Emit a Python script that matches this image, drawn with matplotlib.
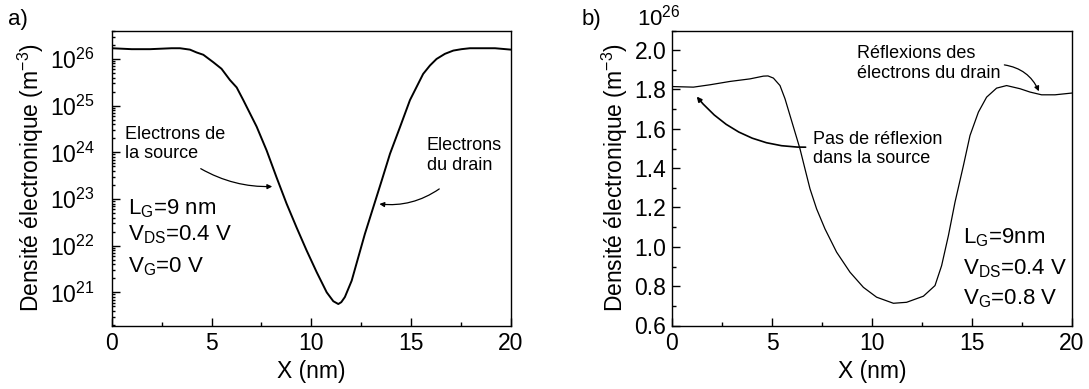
import numpy as np
import matplotlib
matplotlib.use("Agg")
import matplotlib.pyplot as plt
from matplotlib.patches import FancyArrowPatch
from matplotlib.ticker import MultipleLocator, FixedLocator, NullFormatter, FormatStrFormatter

plt.rcParams['font.family'] = ['Liberation Sans', 'DejaVu Sans']
plt.rcParams['mathtext.fontset'] = 'custom'
plt.rcParams['mathtext.rm'] = 'Liberation Sans'
plt.rcParams['mathtext.it'] = 'Liberation Sans:italic'
plt.rcParams['mathtext.bf'] = 'Liberation Sans:bold'
plt.rcParams['mathtext.sf'] = 'Liberation Sans'
plt.rcParams['axes.unicode_minus'] = False

# ---- panel a) data : log10 of electron density (m^-3) ----
xa = [0.0, 1.0, 1.92, 3.0, 3.42, 3.92, 4.25, 4.59, 5.09, 5.5, 5.92, 6.26, 6.59,
      7.26, 7.76, 8.26, 8.76, 9.26, 9.76, 10.27, 10.77, 11.1, 11.35, 11.5, 11.68,
      12.02, 12.35, 12.68, 13.1, 13.52, 13.94, 14.44, 14.94, 15.6, 15.94, 16.27,
      16.69, 17.11, 17.52, 17.94, 19.2, 20.0]
loga = [26.23, 26.21, 26.21, 26.23, 26.23, 26.2, 26.14, 26.09, 25.93, 25.79, 25.55,
        25.39, 25.12, 24.55, 24.04, 23.46, 22.9, 22.39, 21.9, 21.43, 21.0, 20.81,
        20.75, 20.79, 20.9, 21.25, 21.75, 22.25, 22.82, 23.39, 23.97, 24.54, 25.12,
        25.68, 25.86, 26.0, 26.11, 26.18, 26.21, 26.23, 26.23, 26.2]
log_decades = [21, 22, 23, 24, 25, 26]

# ---- panel b) data : electron density (x 1e26 m^-3) ----
xb = [0.0, 1.07, 1.9, 2.9, 3.9, 4.57, 4.8, 5.07, 5.4, 5.65, 5.9, 6.15, 6.4, 6.65,
      6.9, 7.23, 7.65, 8.23, 8.9, 9.57, 10.23, 11.07, 11.73, 12.57, 13.15, 13.48,
      13.82, 14.15, 14.57, 14.9, 15.32, 15.73, 16.23, 16.73, 17.4, 17.9, 18.48,
      19.15, 20.0]
nb = [1.815, 1.812, 1.824, 1.841, 1.854, 1.868, 1.869, 1.858, 1.82, 1.753, 1.668,
      1.583, 1.498, 1.396, 1.295, 1.193, 1.091, 0.973, 0.871, 0.794, 0.744, 0.713,
      0.718, 0.749, 0.803, 0.904, 1.057, 1.227, 1.413, 1.566, 1.685, 1.761, 1.807,
      1.82, 1.804, 1.787, 1.773, 1.773, 1.782]

xticks = [0, 5, 10, 15, 20]

W, H = 1089, 389
fig = plt.figure(figsize=(W / 100, H / 100), dpi=100)

def px_axes(x0, x1, y0, y1):
    return fig.add_axes([x0 / W, 1 - y1 / H, (x1 - x0) / W, (y1 - y0) / H])

axa = px_axes(111.7, 511, 30.5, 325.5)
axb = px_axes(672, 1072, 30.5, 325.5)

FS = 16.5
for ax in (axa, axb):
    for s in ax.spines.values():
        s.set_linewidth(1.0)
    ax.set_xlim(0, 20)
    ax.set_xticks(xticks)
    ax.xaxis.set_minor_locator(MultipleLocator(2.5))
    ax.tick_params(which='both', direction='in', top=False, right=False,
                   labelsize=FS, width=1.0)
    ax.tick_params(which='major', length=6)
    ax.tick_params(which='minor', length=3)
    ax.tick_params(axis='x', pad=5)
    ax.set_xlabel('X (nm)', fontsize=FS, labelpad=3)

# panel a
axa.plot(xa, [10 ** v for v in loga], color='black', lw=1.4)
axa.set_yscale('log')
ylo, yhi = 10 ** 20.29, 10 ** 26.61
axa.set_ylim(ylo, yhi)
major = [10.0 ** d for d in log_decades]
minor = [m * 10.0 ** d for d in range(20, 27) for m in range(2, 10)
         if ylo <= m * 10.0 ** d <= yhi]
axa.yaxis.set_major_locator(FixedLocator(major))
axa.yaxis.set_minor_locator(FixedLocator(minor))
axa.yaxis.set_minor_formatter(NullFormatter())
axa.tick_params(axis='y', pad=12)
axa.tick_params(axis='y', which='minor', length=2.5)
axa.set_ylabel('Densité électronique (m$^{\\mathregular{-3}}$)', fontsize=FS, labelpad=3)

axa.text(0.67, 10 ** 24.57, 'Electrons de\nla source', fontsize=13, va='top', ha='left',
         linespacing=1.2)
axa.text(15.77, 10 ** 24.32, 'Electrons\ndu drain', fontsize=13, va='top', ha='left',
         linespacing=1.2)
axa.add_patch(FancyArrowPatch((4.34, 10 ** 23.68), (8.18, 10 ** 23.27),
                              connectionstyle='arc3,rad=0.15', arrowstyle='-|>',
                              mutation_scale=7, lw=0.9, color='black'))
axa.add_patch(FancyArrowPatch((16.52, 10 ** 23.25), (13.27, 10 ** 22.9),
                              connectionstyle='arc3,rad=-0.2', arrowstyle='-|>',
                              mutation_scale=7, lw=0.9, color='black'))
axa.text(0.83, 10 ** 22.68, 'L$_\\mathregular{G}$=9 nm', fontsize=16, ha='left', va='baseline')
axa.text(0.83, 10 ** 22.11, 'V$_\\mathregular{DS}$=0.4 V', fontsize=16, ha='left', va='baseline')
axa.text(0.83, 10 ** 21.43, 'V$_\\mathregular{G}$=0 V', fontsize=16, ha='left', va='baseline')

# panel b
axb.plot(xb, nb, color='black', lw=0.9)
axb.set_ylim(0.6, 2.1)
axb.yaxis.set_major_locator(MultipleLocator(0.2))
axb.yaxis.set_minor_locator(MultipleLocator(0.1))
axb.yaxis.set_major_formatter(FormatStrFormatter('%.1f'))
axb.tick_params(axis='y', pad=4)
axb.set_ylabel('Densité électronique (m$^{\\mathregular{-3}}$)', fontsize=FS, labelpad=3)

axb.text(9.23, 2.024, 'Réflexions des\nélectrons du drain', fontsize=13, va='top',
         ha='left', linespacing=1.2)
axb.text(7.07, 1.591, 'Pas de réflexion\ndans la source', fontsize=13, va='top',
         ha='left', linespacing=1.2)
axb.add_patch(FancyArrowPatch((16.48, 1.927), (18.4, 1.778),
                              connectionstyle='arc3,rad=-0.3', arrowstyle='-|>',
                              mutation_scale=7, lw=0.9, color='black'))
axb.add_patch(FancyArrowPatch((6.82, 1.507), (1.15, 1.775),
                              connectionstyle='arc3,rad=-0.25', arrowstyle='-|>',
                              mutation_scale=7, lw=1.2, color='black'))
axb.text(14.57, 1.015, 'L$_\\mathregular{G}$=9nm', fontsize=16, ha='left', va='baseline')
axb.text(14.57, 0.862, 'V$_\\mathregular{DS}$=0.4 V', fontsize=16, ha='left', va='baseline')
axb.text(14.57, 0.709, 'V$_\\mathregular{G}$=0.8 V', fontsize=16, ha='left', va='baseline')

fig.text(8 / W, 1 - 20 / H, 'a)', fontsize=16, ha='left', va='center')
fig.text(582 / W, 1 - 20 / H, 'b)', fontsize=16, ha='left', va='center')
fig.text(637 / W, 1 - 18 / H, '10$^{\\mathregular{26}}$', fontsize=16, ha='left', va='center')

fig.savefig('out.png', dpi=100)
